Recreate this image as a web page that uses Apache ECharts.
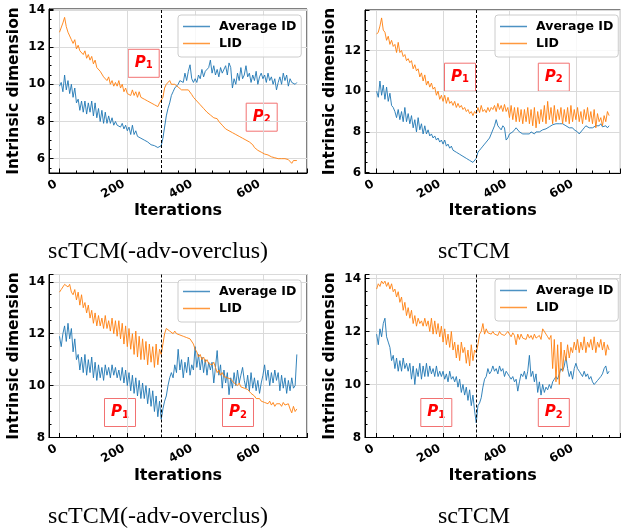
<!DOCTYPE html>
<html><head><meta charset="utf-8">
<script src="https://cdn.jsdelivr.net/npm/echarts@6/dist/echarts.min.js"></script>
<style>html,body{margin:0;padding:0;background:#fff}#c{width:623px;height:531px}</style>
</head><body><div id="c"></div>
<script>
// ---------------- DATA ----------------
const iterations = [
  0,5,10,15,20,25,30,35,40,45, 50,55,60,65,70,75,80,85,90,95,
  100,105,110,115,120,125,130,135,140,145, 150,155,160,165,170,175,180,185,190,195,
  200,205,210,215,220,225,230,235,240,245, 250,255,260,265,270,275,280,285,290,295,
  300,305,310,315,320,325,330,335,340,345, 350,355,360,365,370,375,380,385,390,395,
  400,405,410,415,420,425,430,435,440,445, 450,455,460,465,470,475,480,485,490,495,
  500,505,510,515,520,525,530,535,540,545, 550,555,560,565,570,575,580,585,590,595,
  600,605,610,615,620,625,630,635,640,645, 650,655,660,665,670,675,680,685,690,695,
  700
];
const seriesNames = ['Average ID', 'LID'];
const panelTitles = ['scTCM(-adv-overclus)', 'scTCM', 'scTCM(-adv-overclus)', 'scTCM'];
const xTickLabels = [0, 200, 400, 600];
const yTickLabels1 = [6, 8, 10, 12, 14];
const yTickLabels2 = [6, 8, 10, 12];
const yTickLabels3 = [8, 10, 12, 14];
const yTickLabels4 = [8, 10, 12, 14];
const phaseBoundary = 300;

// Panel 1: scTCM(-adv-overclus), top
const avgId1 = [
  9.9,10.1,9.6,10.5,9.7,10.2,9.5,10.0,9.3,9.8,
  9.0,9.2,8.6,9.1,8.5,9.1,8.4,9.0,8.5,9.1,
  8.3,9.0,8.2,8.7,8.0,8.6,7.9,8.5,7.9,8.3,
  7.9,8.2,7.8,8.0,7.8,7.9,7.7,7.9,7.6,7.8,
  7.5,7.7,7.3,7.8,7.3,7.5,7.2,7.3,7.1,7.2,
  7.0,7.0,6.9,6.85,6.75,6.7,6.7,6.65,6.6,6.6,
  6.7,7.1,7.7,8.3,8.7,9.0,9.4,9.6,9.8,9.9,
  10.0,10.2,10.3,10.1,10.6,10.2,10.7,11.05,10.3,10.1,
  10.3,10.1,10.5,10.3,10.8,10.4,10.7,10.6,10.9,11.3,
  10.6,11.0,10.5,10.8,10.4,10.9,10.6,10.7,11.0,10.5,
  11.15,10.9,9.8,10.3,10.0,10.6,10.2,10.9,10.3,10.5,
  11.0,10.4,10.6,10.1,10.5,10.2,10.7,10.0,10.4,10.6,
  10.3,10.5,10.1,10.6,10.2,10.4,10.0,10.3,9.7,10.1,
  10.4,10.0,10.6,10.2,10.5,9.9,10.3,10.1,10.2,10.0,
  10.1
];
const lid1 = [
  12.8,12.9,13.3,13.6,13.1,12.8,12.6,12.4,12.2,12.4,
  11.9,12.1,11.8,11.9,11.6,11.8,11.4,11.6,11.3,11.5,
  11.1,11.3,10.9,11.0,10.7,10.8,10.4,10.5,10.2,10.4,
  10.0,10.2,9.9,10.1,9.9,10.2,9.8,10.0,9.6,9.8,
  9.5,9.6,9.4,9.7,9.4,9.6,9.3,9.6,9.3,9.4,
  9.2,9.3,9.1,9.2,9.0,9.1,8.9,9.0,8.8,9.0,
  8.9,9.3,9.8,10.0,10.1,10.2,10.0,9.9,10.0,9.9,
  9.85,9.8,9.7,9.75,9.7,9.7,9.7,9.6,9.45,9.3,
  9.2,9.1,9.0,8.9,8.8,8.7,8.6,8.5,8.4,8.35,
  8.25,8.2,8.1,8.15,8.0,7.9,7.8,7.7,7.6,7.55,
  7.5,7.45,7.4,7.35,7.3,7.25,7.2,7.15,7.1,7.05,
  7.0,6.95,6.9,6.8,6.75,6.6,6.5,6.45,6.4,6.35,
  6.3,6.25,6.2,6.2,6.15,6.1,6.1,6.05,6.05,6.0,
  6.0,6.0,5.95,6.0,5.9,5.95,5.85,5.75,5.9,5.85,
  5.9
];

// Panel 2: scTCM, top
const avgId2 = [
  10.0,9.7,10.5,9.8,10.3,9.6,10.2,9.5,9.9,9.3,
  9.2,9.0,8.7,9.1,8.6,9.0,8.5,9.2,8.5,8.9,
  8.4,8.8,8.2,8.6,8.0,8.7,8.1,8.4,7.9,8.3,
  7.9,8.1,7.8,7.9,7.7,7.8,7.6,7.7,7.5,7.6,
  7.4,7.6,7.3,7.4,7.2,7.3,7.1,7.15,7.0,7.05,
  6.9,6.95,6.8,6.85,6.7,6.75,6.6,6.65,6.5,6.45,
  6.7,7.0,7.1,7.2,7.3,7.4,7.5,7.6,7.7,7.9,
  8.1,8.3,8.6,8.3,8.2,8.1,8.3,8.2,7.6,7.7,
  7.9,7.95,8.0,8.1,8.2,8.15,8.0,7.95,7.9,7.85,
  7.9,7.95,7.9,8.0,7.95,7.9,8.0,8.05,8.0,8.05,
  8.1,8.05,8.15,8.2,8.25,8.3,8.35,8.3,8.4,8.45,
  8.4,8.35,8.4,8.45,8.3,8.25,8.2,8.15,8.2,8.1,
  8.05,8.0,7.9,7.85,8.1,8.2,8.3,8.25,8.2,8.15,
  8.2,8.25,8.3,8.35,8.3,8.4,8.25,8.2,8.3,8.2,
  8.3
];
const lid2 = [
  12.8,12.9,13.2,13.6,13.0,12.9,12.5,12.7,12.3,12.5,
  12.2,12.3,11.9,12.4,11.9,12.0,11.7,11.8,11.5,11.6,
  11.4,11.5,11.1,11.3,11.0,11.1,10.7,10.9,10.5,10.8,
  10.3,10.5,10.2,10.4,10.1,10.2,9.8,10.0,9.6,9.8,
  9.5,9.8,9.4,9.7,9.4,9.5,9.3,9.5,9.2,9.4,
  9.2,9.3,9.1,9.2,9.0,9.1,8.9,9.0,8.8,9.0,
  8.9,9.2,8.95,9.3,9.0,9.1,8.95,9.2,9.0,9.2,
  9.1,9.3,9.0,9.4,9.1,9.3,9.0,9.35,9.0,9.2,
  8.7,9.3,8.6,9.2,8.5,9.2,8.5,9.1,8.4,9.1,
  8.5,9.2,8.4,9.1,8.3,9.2,8.2,9.0,8.4,9.1,
  8.5,9.3,8.4,9.5,8.6,9.2,8.4,9.3,8.5,9.1,
  8.6,9.2,8.4,9.1,8.5,9.2,8.4,9.3,8.5,9.1,
  8.6,9.2,8.5,9.0,8.4,9.1,8.6,9.2,8.5,9.0,
  8.4,9.1,8.2,8.9,8.5,8.7,8.3,8.8,8.5,9.0,
  8.8
];

// Panel 3: scTCM(-adv-overclus), bottom
const avgId3 = [
  11.9,11.5,12.0,12.3,11.7,12.4,11.8,12.2,11.3,11.8,
  11.0,11.2,10.6,11.1,10.5,11.2,10.4,11.0,10.5,11.1,
  10.3,10.9,10.2,10.8,10.3,10.7,10.2,10.8,10.4,10.7,
  10.3,10.8,10.4,10.7,10.3,10.6,10.2,10.7,10.1,10.6,
  10.0,10.5,9.8,10.4,9.7,10.3,9.6,10.2,9.5,10.1,
  9.5,10.0,9.3,9.9,9.2,9.8,9.0,9.6,8.8,9.4,
  8.7,9.1,9.4,9.6,10.0,10.3,10.5,10.3,10.8,10.5,
  11.4,10.6,11.0,10.3,10.9,10.5,11.1,10.4,10.8,10.6,
  11.5,10.7,11.2,10.6,11.1,10.5,11.0,10.4,10.9,10.6,
  10.9,10.1,10.7,11.35,10.4,10.8,9.9,10.6,10.1,10.5,
  9.65,10.3,9.9,10.5,10.0,10.6,10.1,10.4,10.7,10.2,
  9.9,10.4,9.8,10.5,9.9,10.3,9.8,10.2,9.7,10.1,
  10.4,10.8,10.2,10.6,10.0,10.5,10.1,10.6,10.2,10.5,
  9.8,10.4,9.9,10.3,9.7,10.2,9.8,10.3,9.9,10.0,
  11.2
];
const lid3 = [
  13.6,13.7,13.8,13.9,13.95,13.8,13.9,13.6,13.5,13.7,
  13.3,13.6,13.1,13.5,13.0,13.2,12.8,13.1,12.6,12.9,
  12.4,12.8,12.3,12.7,12.3,12.6,12.2,12.7,12.2,12.5,
  12.1,12.6,12.0,12.5,11.9,12.5,11.8,12.4,11.6,12.3,
  11.5,12.2,11.4,12.0,11.2,12.1,11.1,11.9,11.0,11.8,
  11.0,11.7,10.8,11.6,10.9,11.5,10.7,11.6,10.8,11.4,
  11.2,11.6,12.0,12.2,12.25,12.1,12.15,12.0,12.1,12.0,
  12.0,11.95,12.0,11.9,11.95,11.85,11.9,11.8,11.75,11.6,
  11.4,11.3,11.1,11.2,11.0,11.1,10.9,11.0,10.85,10.9,
  10.8,10.9,10.7,10.5,10.6,10.4,10.5,10.35,10.4,10.3,
  10.35,10.25,10.2,10.1,10.15,10.0,10.1,9.95,10.0,9.9,
  9.9,9.85,9.8,9.7,9.75,9.6,9.5,9.45,9.5,9.4,
  9.45,9.35,9.4,9.3,9.4,9.25,9.35,9.2,9.3,9.25,
  9.3,9.2,9.35,9.25,9.2,9.3,9.1,8.95,9.2,9.0,
  9.1
];

// Panel 4: scTCM, bottom
const avgId4 = [
  11.9,11.5,12.1,11.8,12.3,12.5,11.8,11.6,11.4,10.9,
  11.1,10.6,11.0,10.5,10.9,10.5,11.0,10.6,10.8,10.5,
  10.8,10.2,10.7,10.0,10.6,10.3,10.8,10.2,10.7,10.3,
  10.8,10.3,10.7,10.4,10.6,10.3,10.7,10.3,10.5,10.3,
  10.5,10.2,10.4,10.1,10.5,10.2,10.3,10.1,10.3,9.9,
  10.2,9.7,10.0,9.6,9.9,9.4,9.8,9.2,9.6,9.0,
  8.55,9.2,9.3,9.5,9.9,10.2,10.3,10.6,10.4,10.5,
  10.7,10.5,10.6,10.4,10.7,10.5,10.6,10.3,10.5,10.4,
  10.3,10.2,10.3,10.1,10.2,9.75,10.1,10.4,10.3,10.5,
  10.2,10.5,11.1,10.3,10.5,10.1,10.4,9.7,10.1,9.6,
  10.0,9.7,9.9,9.8,10.0,9.85,10.1,10.2,10.3,10.2,
  10.4,10.6,10.5,10.7,11.05,10.6,10.3,10.5,10.2,10.6,
  10.8,10.6,10.5,10.4,10.3,10.5,10.3,10.4,10.2,10.3,
  10.1,10.0,10.05,10.15,10.2,10.3,10.4,10.6,10.7,10.4,
  10.5
];
const lid4 = [
  13.6,13.8,13.7,13.9,13.8,13.9,13.7,13.85,13.6,13.8,
  13.5,13.6,13.3,13.5,13.1,13.3,12.8,13.1,12.6,12.9,
  12.5,12.8,12.3,12.6,12.2,12.5,12.3,12.4,12.2,12.5,
  12.2,12.4,12.0,12.5,11.9,12.4,11.9,12.3,11.8,12.2,
  11.6,12.1,11.5,11.9,11.4,12.0,11.3,11.6,11.0,11.5,
  10.9,11.6,11.2,11.4,10.8,11.3,10.7,11.5,10.9,11.3,
  11.2,11.5,11.9,12.0,12.3,11.9,12.1,11.95,12.0,11.9,
  12.0,11.9,11.95,11.85,12.0,11.9,11.95,11.85,11.9,12.0,
  11.9,11.8,11.95,11.85,11.5,11.9,11.7,11.9,11.75,11.8,
  11.7,11.9,11.75,11.85,11.7,11.9,11.75,11.8,11.85,11.7,
  12.1,12.15,11.9,11.8,11.7,11.85,10.6,11.7,10.1,11.5,
  10.0,11.6,10.5,11.3,10.9,11.5,11.0,11.4,11.2,11.6,
  11.3,11.7,11.2,11.6,11.3,11.8,11.2,11.6,11.4,11.7,
  11.3,11.8,11.2,11.6,11.4,11.7,11.3,11.6,11.1,11.5,
  11.3
];

// ---------------- LAYOUT / STYLE ----------------
const FONT = 'DejaVu Sans';
const COLORS = ['#1f77b4', '#ff7f0e'];
const panels = [
  { avg: avgId1, lid: lid1, yTicks: yTickLabels1, grid: { left: 49, top: 9, width: 258, height: 164 }, x: [-31, 730], y: [5.23, 14.05],
    legend: [178, 15], p1: [143.7, 63.3], p2: [261.7, 117.2], caption: [158, 251.5] },
  { avg: avgId2, lid: lid2, yTicks: yTickLabels2, grid: { left: 365, top: 10, width: 259, height: 163 }, x: [-35, 734], y: [5.98, 13.99],
    legend: [495, 15], p1: [460, 77.2], p2: [553.8, 77.2], caption: [474, 251.5] },
  { avg: avgId3, lid: lid3, yTicks: yTickLabels3, grid: { left: 49, top: 274.5, width: 258, height: 163 }, x: [-31, 730], y: [8.0, 14.28],
    legend: [178, 280], p1: [120, 412.5], p2: [238, 412.5], caption: [158, 516.5] },
  { avg: avgId4, lid: lid4, yTicks: yTickLabels4, grid: { left: 365, top: 274.5, width: 259, height: 163 }, x: [-35, 734], y: [8.0, 14.15],
    legend: [495, 279], p1: [436.3, 412.5], p2: [553.8, 412.5], caption: [474, 516.5] }
];

const grids = [], xAxes = [], yAxes = [], series = [], legends = [], graphics = [];
const tickStyle = { color: '#000', width: 1 };
const labelFont = { fontFamily: FONT, fontWeight: 'bold', fontSize: 12, color: '#000' };
const nameFont = { fontFamily: FONT, fontWeight: 'bold', fontSize: 16, color: '#000' };

function pBox(center, sub) {
  return {
    type: 'group', x: center[0], y: center[1], z: 100,
    children: [
      { type: 'rect', shape: { x: -15.5, y: -14, width: 31, height: 28 },
        style: { fill: '#fff', stroke: '#f27272', lineWidth: 1 } },
      { type: 'text', x: 0, y: 0,
        style: { text: '{p|P}{s|' + sub + '}', align: 'center', verticalAlign: 'middle',
          textAlign: 'center', textVerticalAlign: 'middle',
          rich: {
            p: { fontFamily: FONT, fontSize: 15, fontWeight: 'bold', fontStyle: 'italic', fill: '#ff0000', color: '#ff0000' },
            s: { fontFamily: FONT, fontSize: 10, fontWeight: 'bold', fill: '#ff0000', color: '#ff0000', verticalAlign: 'bottom' }
          } } }
    ]
  };
}

panels.forEach((p, k) => {
  grids.push(Object.assign({ show: true, borderColor: '#000', borderWidth: 1, backgroundColor: 'transparent' }, p.grid));
  const xi = xAxes.length, yi = yAxes.length;
  xAxes.push({ type: 'value', gridIndex: k, min: p.x[0], max: p.x[1], minInterval: 200, maxInterval: 200, position: 'bottom',
    axisLine: { show: true, onZero: false, lineStyle: tickStyle },
    axisTick: { show: true, inside: true, length: 4.5, lineStyle: tickStyle },
    axisLabel: Object.assign({ rotate: 30, margin: 8, padding: [0, 4, 0, 0], formatter: v => xTickLabels.includes(v) ? String(v) : '' }, labelFont),
    splitLine: { show: true, lineStyle: { color: '#dadada', width: 1 } },
    name: 'Iterations', nameLocation: 'middle', nameGap: 30, nameTextStyle: nameFont });
  xAxes.push({ type: 'value', gridIndex: k, min: p.x[0], max: p.x[1], minInterval: 50, maxInterval: 50, position: 'bottom',
    axisLine: { show: false, onZero: false }, axisTick: { show: true, inside: true, length: 2.5, lineStyle: tickStyle },
    axisLabel: { show: false }, splitLine: { show: false } });
  yAxes.push({ type: 'value', gridIndex: k, min: p.y[0], max: p.y[1], minInterval: 2, maxInterval: 2, position: 'left',
    axisLine: { show: true, onZero: false, lineStyle: tickStyle },
    axisTick: { show: true, inside: true, length: 4.5, lineStyle: tickStyle },
    axisLabel: Object.assign({ margin: 4, formatter: v => p.yTicks.includes(v) ? String(v) : '' }, labelFont),
    splitLine: { show: true, lineStyle: { color: '#dadada', width: 1 } },
    name: 'Intrinsic dimension', nameLocation: 'middle', nameGap: 27,
    nameTextStyle: Object.assign({}, nameFont, { fontSize: 15.5 }) });
  yAxes.push({ type: 'value', gridIndex: k, min: p.y[0], max: p.y[1], minInterval: 0.5, maxInterval: 0.5, position: 'left',
    axisLine: { show: false, onZero: false }, axisTick: { show: true, inside: true, length: 2.5, lineStyle: tickStyle },
    axisLabel: { show: false }, splitLine: { show: false } });

  [p.avg, p.lid].forEach((vals, j) => {
    const s = {
      type: 'line', name: seriesNames[j], xAxisIndex: xi, yAxisIndex: yi,
      data: iterations.map((it, i) => [it, vals[i]]),
      symbol: 'none', showSymbol: false, color: COLORS[j],
      lineStyle: { width: 1, color: COLORS[j], opacity: 0.9 },
      itemStyle: { color: COLORS[j] },
      animation: false, z: 2 + j
    };
    if (j === 1) {
      s.markLine = { silent: true, symbol: ['none', 'none'], animation: false, label: { show: false },
        lineStyle: { color: '#000', type: [3, 2], width: 1, opacity: 1 },
        data: [{ xAxis: phaseBoundary }] };
    }
    series.push(s);
  });

  legends.push({ orient: 'vertical', left: p.legend[0], top: p.legend[1], data: seriesNames,
    icon: 'rect', itemWidth: 27, itemHeight: 1.5, itemGap: 0, padding: [3, 5, 5, 5],
    backgroundColor: 'rgba(255,255,255,0.8)', borderColor: '#cccccc', borderWidth: 1, borderRadius: 3,
    selectedMode: false, itemStyle: { opacity: 0.8 },
    textStyle: { fontFamily: FONT, fontWeight: 'bold', fontSize: 12.5, color: '#000', lineHeight: 17, padding: [0, 0, 0, 4] } });

  graphics.push(pBox(p.p1, '1'));
  graphics.push(pBox(p.p2, '2'));
  graphics.push({ type: 'text', x: p.caption[0], y: p.caption[1], z: 100,
    style: { text: panelTitles[k], fontFamily: 'Liberation Serif', fontSize: 24, fill: '#000',
      align: 'center', verticalAlign: 'middle', textAlign: 'center', textVerticalAlign: 'middle' } });
});

const chart = echarts.init(document.getElementById('c'), null, { renderer: 'canvas' });
chart.setOption({
  backgroundColor: '#fff',
  animation: false,
  textStyle: { fontFamily: FONT },
  grid: grids, xAxis: xAxes, yAxis: yAxes, series: series, legend: legends, graphic: graphics
});
</script></body></html>
